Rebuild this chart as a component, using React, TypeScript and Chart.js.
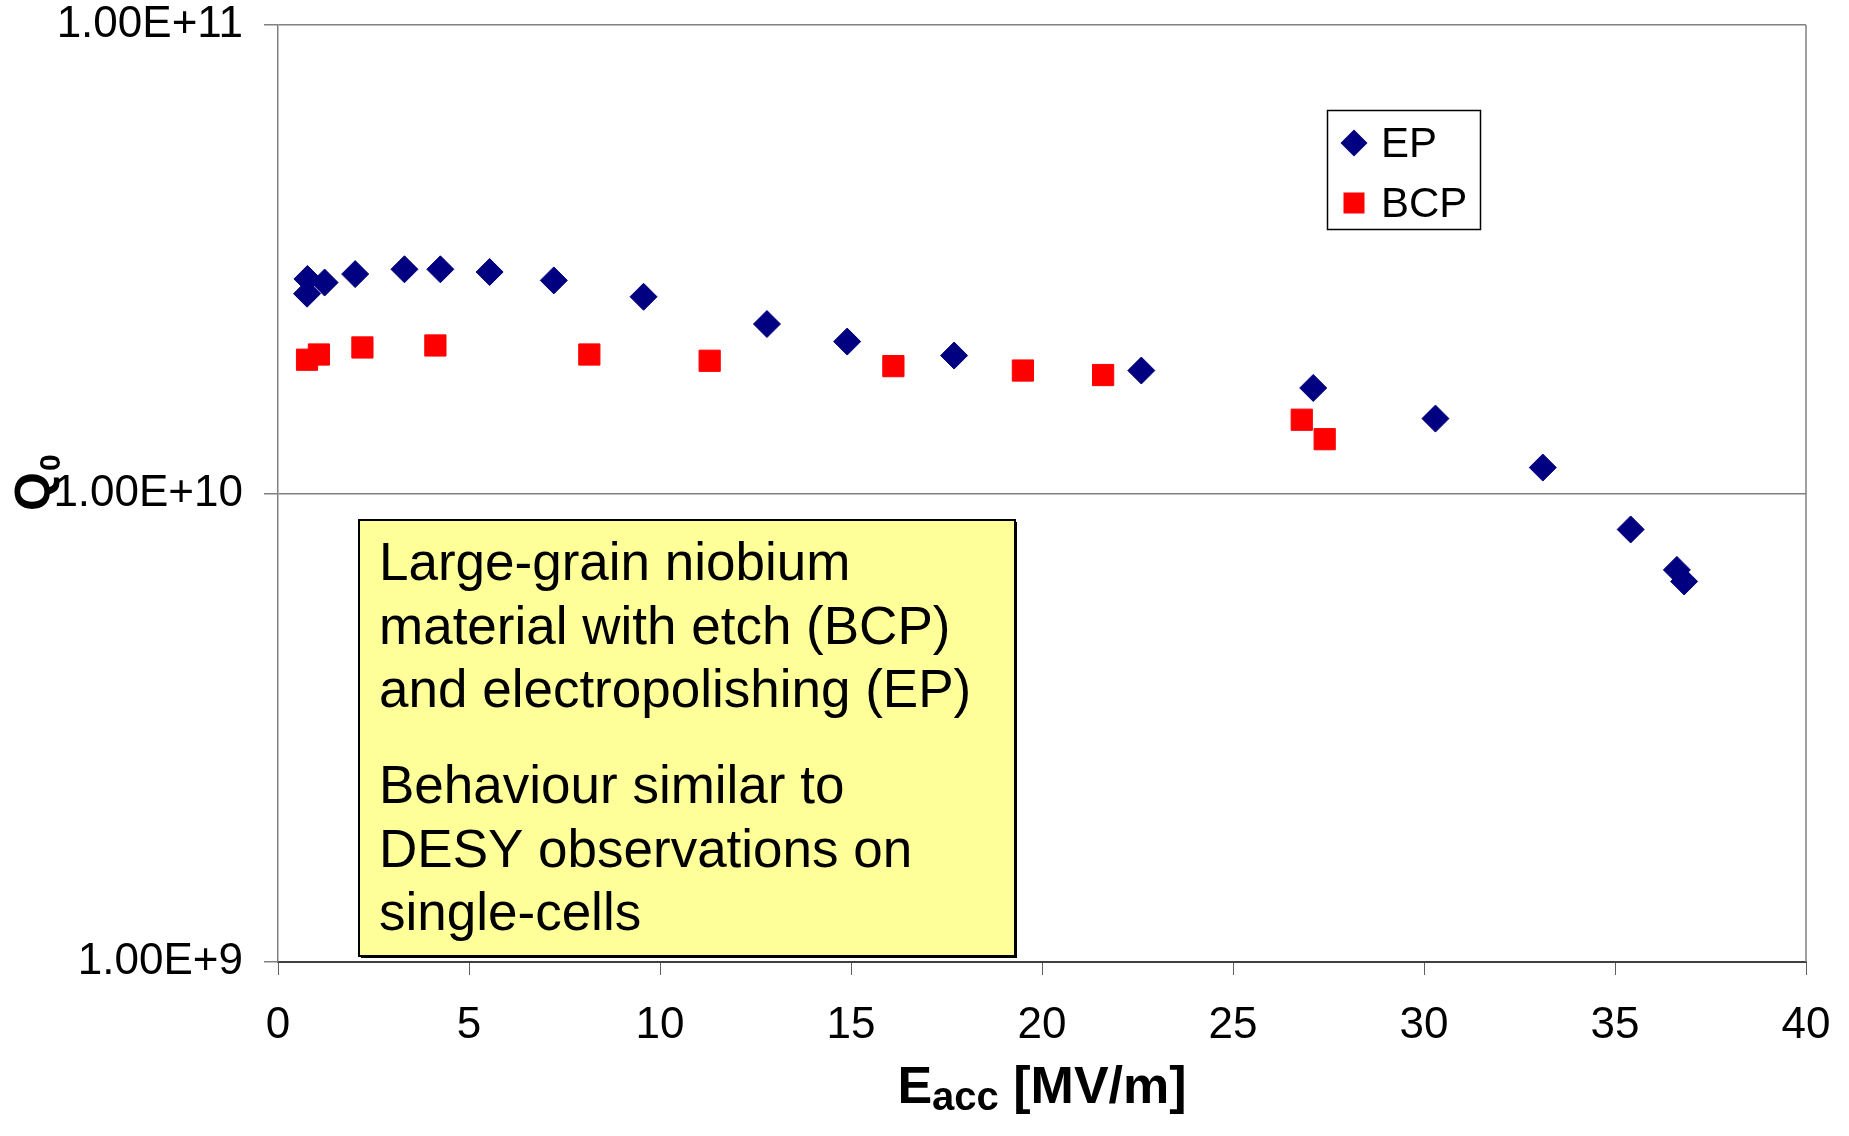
import React, { useEffect, useRef } from "react";
import { Chart, registerables } from "chart.js";

Chart.register(...registerables);

const FONT = '"Liberation Sans", Arial, Helvetica, sans-serif';

// EP series (Eacc in MV/m, Q0)
const epEacc = [0.76, 0.77, 1.22, 2.02, 3.31, 4.25, 5.54, 7.22, 9.57, 12.8, 14.9, 17.7, 22.6, 27.1, 30.3, 33.11, 35.41, 36.62, 36.81];
const epQ0 = [2.67e10, 2.87e10, 2.82e10, 2.94e10, 3.01e10, 3.01e10, 2.97e10, 2.85e10, 2.63e10, 2.3e10, 2.11e10, 1.97e10, 1.83e10, 1.68e10, 1.445e10, 1.136e10, 8.38e9, 6.87e9, 6.49e9];

// BCP series
const bcpEacc = [0.76, 1.07, 2.21, 4.12, 8.15, 11.3, 16.11, 19.5, 21.6, 26.8, 27.4];
const bcpQ0 = [1.93e10, 1.98e10, 2.05e10, 2.07e10, 1.98e10, 1.92e10, 1.87e10, 1.83e10, 1.79e10, 1.437e10, 1.306e10];

const xTickValues = [0, 5, 10, 15, 20, 25, 30, 35, 40];
const yTickValues = [1e9, 1e10, 1e11];
const seriesNames = ["EP", "BCP"];
const seriesColors = ["#000080", "#FF0000"];

const noteParagraph1 = ["Large-grain niobium", "material with etch (BCP)", "and electropolishing (EP)"];
const noteParagraph2 = ["Behaviour similar to", "DESY observations on", "single-cells"];

const xTitleMain = "E";
const xTitleSub = "acc";
const xTitleTail = " [MV/m]";
const yTitleMain = "Q";
const yTitleSub = "0";

function drawDiamond(ctx: CanvasRenderingContext2D, x: number, y: number, r: number, color: string) {
  ctx.beginPath();
  ctx.moveTo(x, y - r);
  ctx.lineTo(x + r, y);
  ctx.lineTo(x, y + r);
  ctx.lineTo(x - r, y);
  ctx.closePath();
  ctx.fillStyle = color;
  ctx.fill();
}

const decorPlugin = {
  id: "decor",
  afterDraw(chart: any) {
    const ctx: CanvasRenderingContext2D = chart.ctx;
    const a = chart.chartArea;
    ctx.save();

    // right border of plot area
    ctx.strokeStyle = "#808080";
    ctx.lineWidth = 1.5;
    ctx.beginPath();
    ctx.moveTo(a.right, a.top);
    ctx.lineTo(a.right, a.bottom);
    ctx.stroke();

    // annotation box
    const bx = 359, by = 520, bw = 656, bh = 436;
    ctx.fillStyle = "#000000";
    ctx.fillRect(bx + 2, by + 2, bw, bh);
    ctx.fillStyle = "#FFFF99";
    ctx.fillRect(bx, by, bw, bh);
    ctx.strokeStyle = "#000000";
    ctx.lineWidth = 2;
    ctx.strokeRect(bx, by, bw, bh);

    ctx.fillStyle = "#000000";
    ctx.font = `53px ${FONT}`;
    ctx.textAlign = "left";
    ctx.textBaseline = "alphabetic";
    const lineH = 63.5;
    noteParagraph1.forEach((t, i) => ctx.fillText(t, 379, 580 + i * lineH));
    noteParagraph2.forEach((t, i) => ctx.fillText(t, 379, 803 + i * lineH));

    // legend
    const lx = 1327.5, ly = 110.5, lw = 153, lh = 119;
    ctx.fillStyle = "#FFFFFF";
    ctx.fillRect(lx, ly, lw, lh);
    ctx.strokeStyle = "#000000";
    ctx.lineWidth = 1.5;
    ctx.strokeRect(lx, ly, lw, lh);
    drawDiamond(ctx, 1354, 143, 13.5, seriesColors[0]);
    ctx.fillStyle = seriesColors[1];
    ctx.fillRect(1343.5, 192.5, 21, 21);
    ctx.fillStyle = "#000000";
    ctx.font = `42px ${FONT}`;
    ctx.fillText(seriesNames[0], 1381, 157);
    ctx.fillText(seriesNames[1], 1381, 217);

    // x title
    const cx = (a.left + a.right) / 2;
    const fMain = `bold 52px ${FONT}`;
    const fSub = `bold 40px ${FONT}`;
    ctx.font = fMain;
    const wE = ctx.measureText(xTitleMain).width;
    const wTail = ctx.measureText(xTitleTail).width;
    ctx.font = fSub;
    const wSub = ctx.measureText(xTitleSub).width;
    const total = wE + wSub + wTail;
    const x0 = cx - total / 2;
    const base = 1103;
    ctx.font = fMain;
    ctx.fillText(xTitleMain, x0, base);
    ctx.font = fSub;
    ctx.fillText(xTitleSub, x0 + wE, base + 7);
    ctx.font = fMain;
    ctx.fillText(xTitleTail, x0 + wE + wSub, base);

    // y title (rotated)
    ctx.translate(50, 511);
    ctx.rotate(-Math.PI / 2);
    ctx.font = `bold 50px ${FONT}`;
    const wQ = ctx.measureText(yTitleMain).width;
    ctx.fillText(yTitleMain, 0, 0);
    ctx.font = `bold 30px ${FONT}`;
    ctx.fillText(yTitleSub, wQ + 1, 10);

    ctx.restore();
  },
};

export default function App() {
  const ref = useRef<HTMLCanvasElement>(null);

  useEffect(() => {
    const canvas = ref.current;
    if (!canvas) return;
    Chart.defaults.font.family = FONT;
    const chart = new Chart(canvas, {
      type: "scatter",
      data: {
        datasets: [
          {
            label: seriesNames[0],
            data: epEacc.map((x, i) => ({ x, y: epQ0[i] })),
            pointStyle: "rectRot",
            pointRadius: 13.5,
            pointHoverRadius: 13.5,
            pointBorderWidth: 1,
            backgroundColor: seriesColors[0],
            borderColor: seriesColors[0],
            showLine: false,
          },
          {
            label: seriesNames[1],
            data: bcpEacc.map((x, i) => ({ x, y: bcpQ0[i] })),
            pointStyle: "rect",
            pointRadius: 15,
            pointHoverRadius: 15,
            pointBorderWidth: 1,
            backgroundColor: seriesColors[1],
            borderColor: seriesColors[1],
            showLine: false,
          },
        ],
      },
      options: {
        responsive: false,
        animation: false,
        devicePixelRatio: 1,
        layout: { padding: { top: 25, right: 43, left: 0, bottom: 0 } },
        plugins: {
          legend: { display: false },
          tooltip: { enabled: false },
          title: { display: false },
        },
        scales: {
          x: {
            type: "linear",
            position: "bottom",
            min: 0,
            max: 40,
            afterBuildTicks: (s: any) => {
              s.ticks = xTickValues.map((v) => ({ value: v }));
            },
            afterFit: (s: any) => {
              s.height = 174;
              s.paddingLeft = 0;
              s.paddingRight = 0;
              s.paddingTop = 0;
              s.paddingBottom = 0;
            },
            grid: {
              drawOnChartArea: false,
              drawTicks: true,
              tickLength: 13,
              color: "#606060",
              lineWidth: 1,
            },
            border: { display: true, color: "#404040", width: 2 },
            ticks: {
              font: { size: 44, family: FONT },
              color: "#000000",
              padding: 24,
              maxRotation: 0,
              autoSkip: false,
            },
          },
          y: {
            type: "logarithmic",
            position: "left",
            min: 1e9,
            max: 1e11,
            afterBuildTicks: (s: any) => {
              s.ticks = yTickValues.map((v) => ({ value: v }));
            },
            afterFit: (s: any) => {
              s.width = 278;
              s.paddingLeft = 0;
              s.paddingRight = 0;
              s.paddingTop = 0;
              s.paddingBottom = 0;
            },
            grid: {
              color: "#808080",
              lineWidth: 1.5,
              drawTicks: true,
              tickLength: 14,
            },
            border: { display: true, color: "#808080", width: 1.5 },
            ticks: {
              font: { size: 44, family: FONT },
              color: "#000000",
              padding: 21,
              autoSkip: false,
              callback: (v: any) => Number(v).toExponential(2).toUpperCase(),
            },
          },
        },
      } as any,
      plugins: [decorPlugin],
    });
    return () => chart.destroy();
  }, []);

  return (
    <div style={{ position: "absolute", left: 0, top: 0, width: 1849, height: 1136, background: "#ffffff" }}>
      <canvas ref={ref} width={1849} height={1136} style={{ display: "block", width: 1849, height: 1136 }} />
    </div>
  );
}
